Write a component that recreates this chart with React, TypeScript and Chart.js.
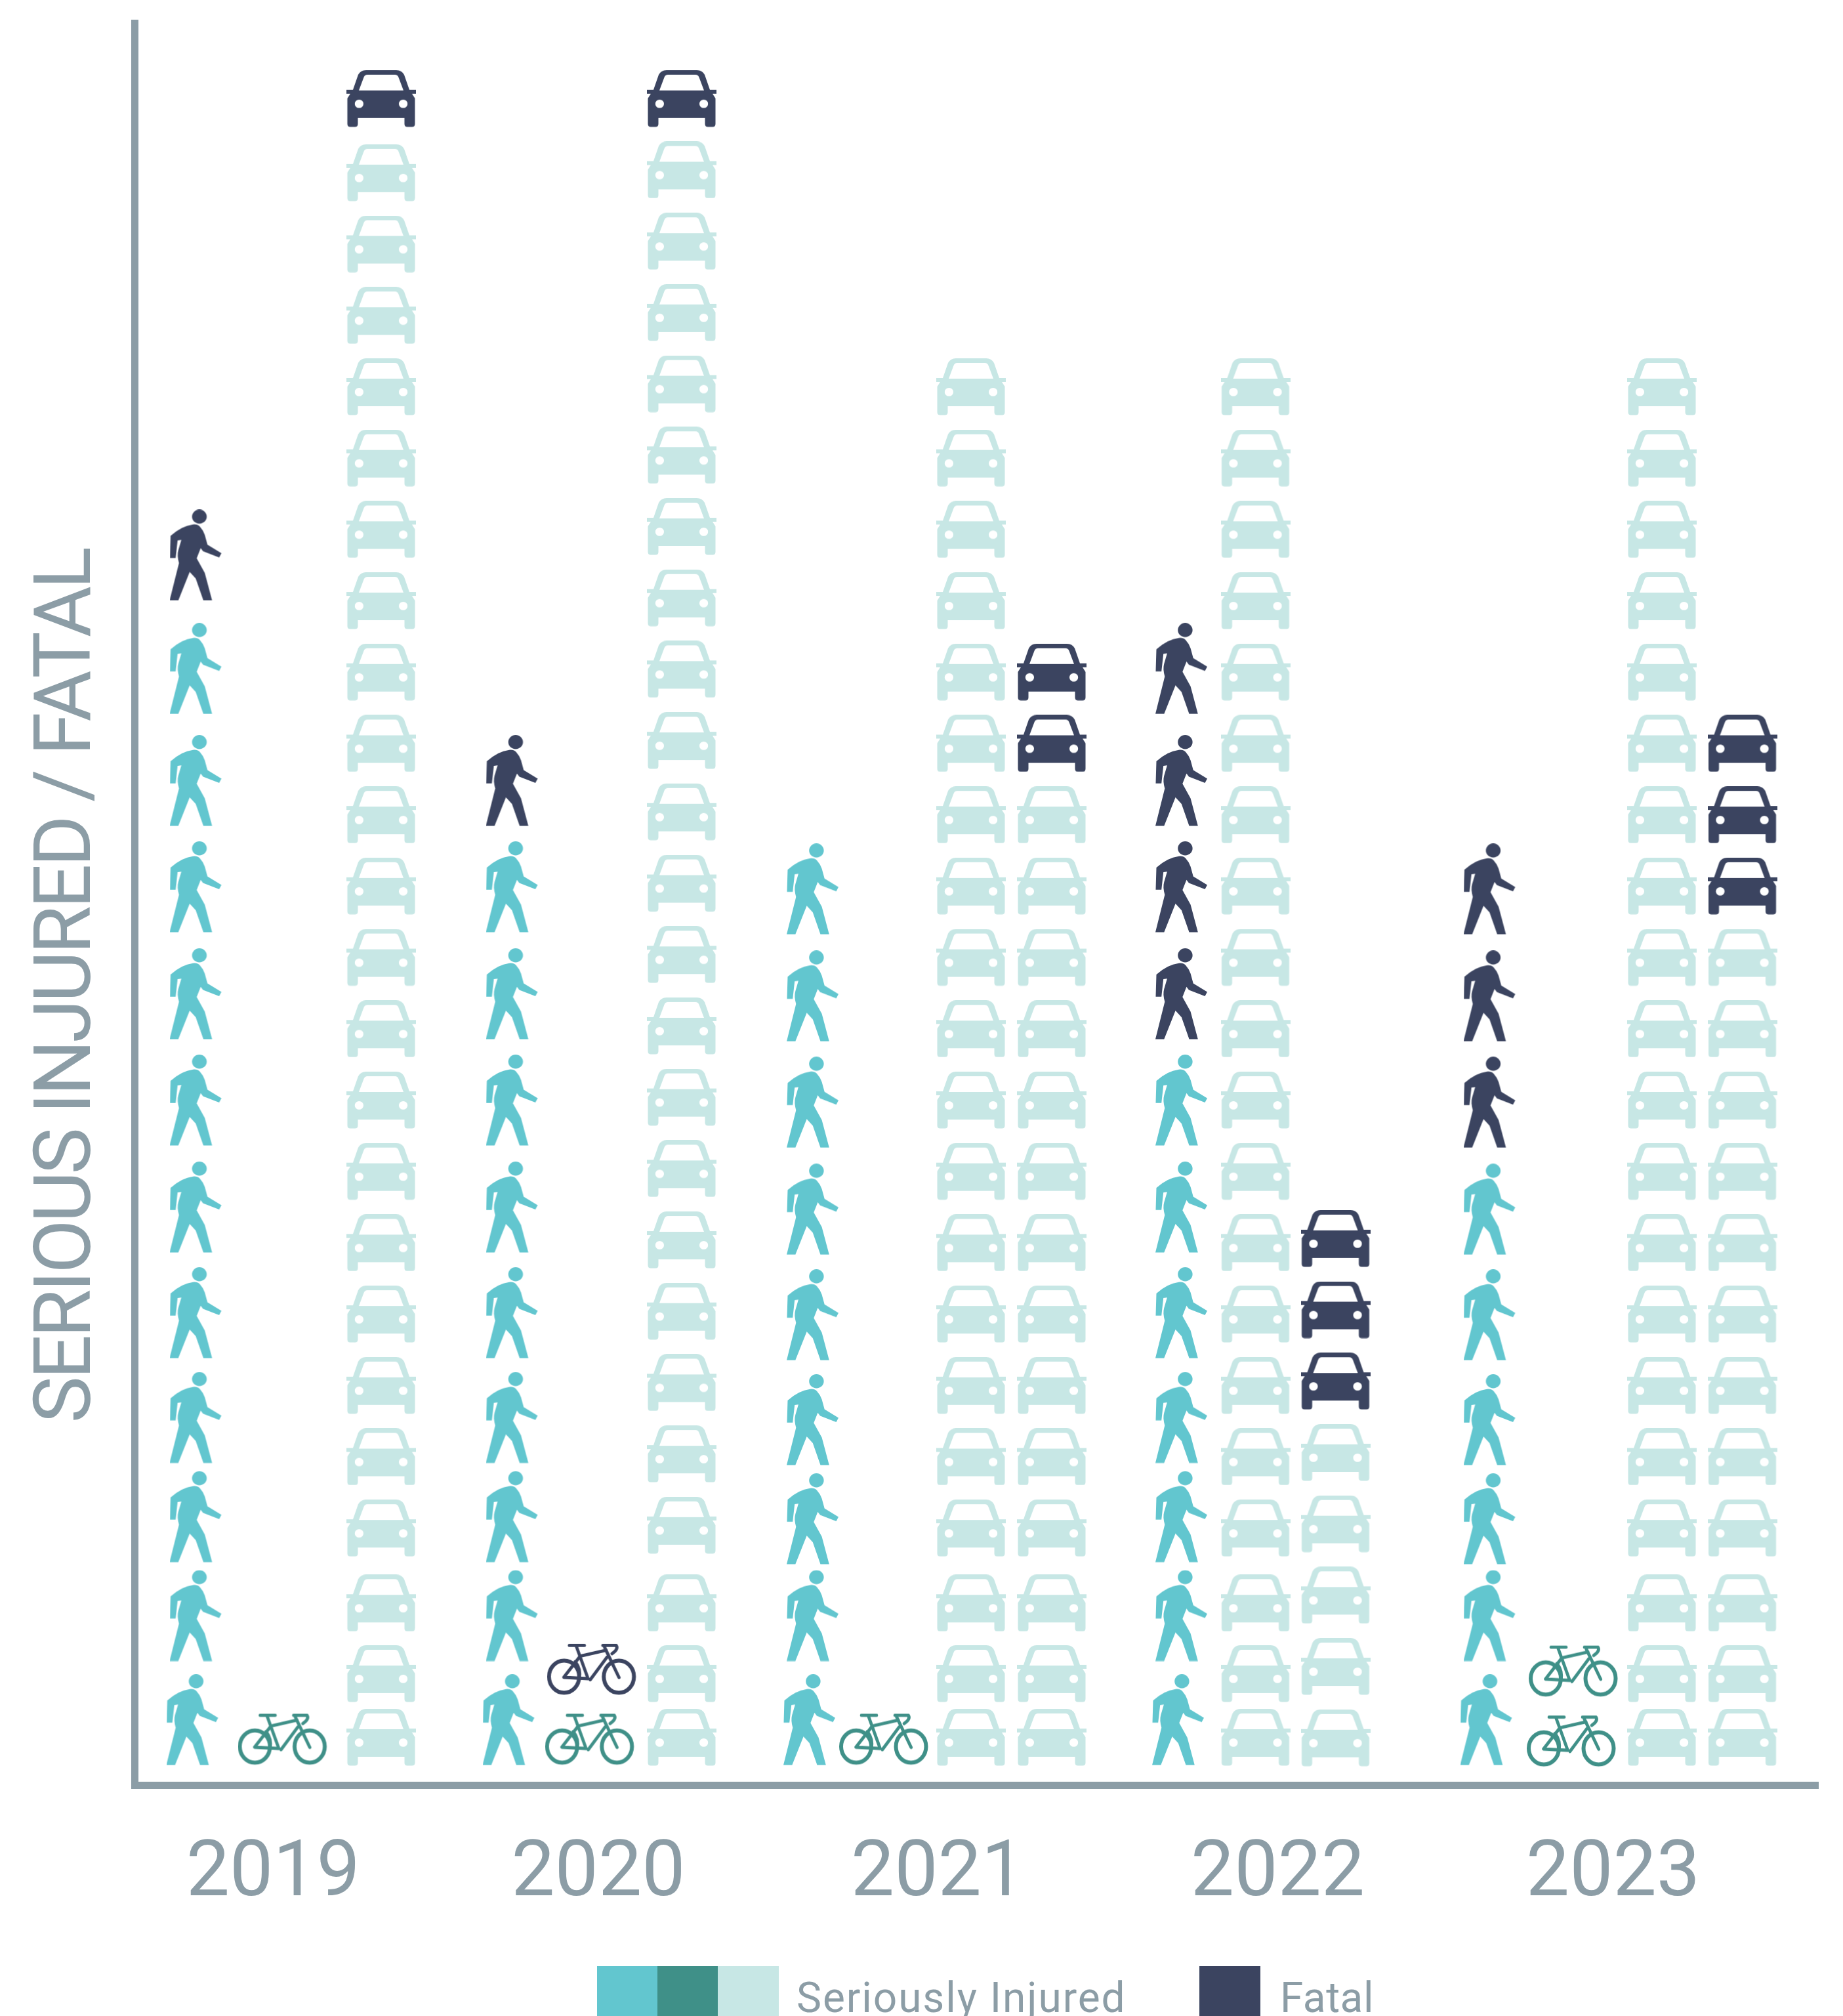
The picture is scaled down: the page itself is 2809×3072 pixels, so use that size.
import React, { useEffect, useRef } from "react";
import { Chart, registerables } from "chart.js";

Chart.register(...registerables);

// ---- counts ----
const years = ["2019", "2020", "2021", "2022", "2023"];
const pedInjured = [11, 9, 9, 7, 6];
const pedFatal = [1, 1, 0, 4, 3];
const bikeInjured = [1, 1, 1, 0, 2];
const bikeFatal = [0, 1, 0, 0, 0];
const carInjuredFirstColumn = [23, 23, 20, 20, 20];
const carFatalFirstColumn = [1, 1, 0, 0, 0];
const carInjuredSecondColumn = [0, 0, 14, 5, 12];
const carFatalSecondColumn = [0, 0, 2, 3, 3];

// ---- axis-unit layout of the pictogram columns and rows ----
const yearTicks = [2.108, 7.064, 12.24, 17.42, 22.53];
const pedColumn = [0.93, 5.75, 10.335, 15.955, 20.65];
const bikeColumn = [2.255, 6.937, 11.42, 16.5, 21.9];
const carColumnA = [3.754, 8.335, 12.745, 17.08, 23.275];
const carColumnB = [5, 9.5, 13.975, 18.3, 24.5];
const pedRows = [0.914, 2.373, 3.76, 5.15, 6.62, 8.1, 9.6, 11.09, 12.59, 14.08, 15.65, 17.24];
const pedShift = [0, 0, -0.03, 0, -0.03];
const bikeRows = [0.64, 1.62];
const bikeShift = [0, 0, 0, 0, -0.025];
const carBottomRows = [0.667, 1.56, 2.55];
const carTopRow = 23.64;
const carShiftA = [0, 0.04, 0, 0, 0];
const carEvenOffsetB = [0.6, 0.6, 0.6, 0.66, 0.6];

const GREY = "#8c9da6";
const TEAL = "#62c6cf";
const GREEN = "#3f9088";
const PALE = "#c7e7e5";
const NAVY = "#3b4460";
const FONT = "Roboto";

function sheet(w: number, h: number) {
  const c = document.createElement("canvas");
  c.width = w;
  c.height = h;
  return c;
}

function carIcon(color: string) {
  const c = sheet(106, 87);
  const g = c.getContext("2d")!;
  const p = new Path2D(
    "M30 0 L76 0 Q84 0 88 7 L96 30 L106 30 L106 36 L100 36 L104.5 43 L104.5 82 Q104.5 86.5 100 86.5 L93 86.5 Q88.5 86.5 88.5 82 L88.5 73 L17.5 73 L17.5 82 Q17.5 86.5 13 86.5 L6 86.5 Q1.5 86.5 1.5 82 L1.5 43 L6 36 L0 36 L0 30 L10 30 L18 7 Q22 0 30 0 Z " +
      "M32 7 L74 7 Q78 7 79.5 11 L87 31 L19 31 L26.5 11 Q28 7 32 7 Z"
  );
  p.moveTo(26, 51.4);
  p.ellipse(19.4, 51.4, 6.6, 6.4, 0, 0, Math.PI * 2);
  p.closePath();
  p.moveTo(93.2, 51.4);
  p.ellipse(86.6, 51.4, 6.6, 6.4, 0, 0, Math.PI * 2);
  p.closePath();
  g.fillStyle = color;
  g.fill(p, "evenodd");
  return c;
}

function pedIcon(color: string) {
  const c = sheet(80, 139);
  const g = c.getContext("2d")!;
  g.fillStyle = color;
  g.beginPath();
  g.ellipse(45.4, 10.7, 11.2, 10.7, 0, 0, Math.PI * 2);
  g.fill();
  g.fill(
    new Path2D(
      "M1.5 40 Q18 25 35.7 22.7 Q42 22 46 25.7 Q51 31 53.6 38.6 L57.7 53.6 L79 66.4 L75.5 72.9 L51 63.4 L47.4 58.7 L41.3 74.2 L53.6 96.4 L64.8 138.5 L51.5 138.5 L39.8 105 L30.6 95 L13.3 138.5 L0 138.5 L14.3 81.4 Q11 70 13.3 62 L17.9 46.3 L12.2 47 L9.2 73.7 L0.5 73.7 Z"
    )
  );
  return c;
}

function bikeIcon(color: string) {
  const c = sheet(137, 80);
  const g = c.getContext("2d")!;
  g.strokeStyle = color;
  g.lineCap = "round";
  g.lineJoin = "round";
  g.lineWidth = 6;
  g.beginPath();
  g.ellipse(26, 51, 23, 24.5, 0, 0, Math.PI * 2);
  g.moveTo(132.5, 51);
  g.ellipse(109.5, 51, 23, 24.5, 0, 0, Math.PI * 2);
  g.stroke();
  g.lineWidth = 4.8;
  g.stroke(
    new Path2D(
      "M34 3.4 L57 3.4 M44.4 4 L62.5 54 L25.5 52 L49.5 21 M52 19.3 L90.3 10.7 M65.8 55.7 L91.3 21.4 M87.8 6.4 L109.7 52.3 M85 3.4 L105.6 3.4 Q109 9 99 15.9 M43 28 Q52 40 49 53"
    )
  );
  return c;
}

function carRow(i: number, even: number, shift: number) {
  if (i === 23) return carTopRow;
  return i < carBottomRows.length && even === 0.6 ? carBottomRows[i] : i + even + shift;
}

function stack(n: number, from: number, x: (row: number) => number, y: (row: number) => number) {
  const out: { x: number; y: number }[] = [];
  for (let r = from; r < from + n; r++) out.push({ x: x(r), y: y(r) });
  return out;
}

function buildDatasets() {
  const pedI: any[] = [], pedF: any[] = [], bikeI: any[] = [], bikeF: any[] = [], carI: any[] = [], carF: any[] = [];
  years.forEach((_, k) => {
    const px = (r: number) => pedColumn[k] - (r === 0 ? 0.05 : 0);
    const py = (r: number) => pedRows[r] + (r >= 2 ? pedShift[k] : 0);
    pedI.push(...stack(pedInjured[k], 0, px, py));
    pedF.push(...stack(pedFatal[k], pedInjured[k], px, py));
    const bx = (r: number) => bikeColumn[k] + (r === 1 ? 0.03 : 0);
    const by = (r: number) => bikeRows[r] + bikeShift[k];
    bikeI.push(...stack(bikeInjured[k], 0, bx, by));
    bikeF.push(...stack(bikeFatal[k], bikeInjured[k], bx, by));
    const ay = (r: number) => carRow(r, 0.6, carShiftA[k]);
    carI.push(...stack(carInjuredFirstColumn[k], 0, () => carColumnA[k], ay));
    carF.push(...stack(carFatalFirstColumn[k], carInjuredFirstColumn[k], () => carColumnA[k], ay));
    const by2 = (r: number) => carRow(r, carEvenOffsetB[k], 0);
    carI.push(...stack(carInjuredSecondColumn[k], 0, () => carColumnB[k], by2));
    carF.push(...stack(carFatalSecondColumn[k], carInjuredSecondColumn[k], () => carColumnB[k], by2));
  });
  return [
    { label: "Pedestrian, seriously injured", data: pedI, pointStyle: pedIcon(TEAL) },
    { label: "Pedestrian, fatal", data: pedF, pointStyle: pedIcon(NAVY) },
    { label: "Cyclist, seriously injured", data: bikeI, pointStyle: bikeIcon(GREEN) },
    { label: "Cyclist, fatal", data: bikeF, pointStyle: bikeIcon(NAVY) },
    { label: "Motorist, seriously injured", data: carI, pointStyle: carIcon(PALE) },
    { label: "Motorist, fatal", data: carF, pointStyle: carIcon(NAVY) },
  ];
}

const legendPlugin = {
  id: "swatchLegend",
  afterLayout(chart: any) {
    // the axis title's narrower set width
    const block = chart.titleBlock;
    if (block && !block.__spaced) {
      const draw = block.draw.bind(block);
      block.draw = () => {
        chart.ctx.save();
        chart.ctx.letterSpacing = "-4.6px";
        draw();
        chart.ctx.restore();
      };
      block.__spaced = true;
    }
  },
  afterDraw(chart: any) {
    const { ctx } = chart;
    ctx.save();
    const swatch = (x: number, w: number, color: string) => {
      ctx.fillStyle = color;
      ctx.fillRect(x, 2996, w, 76);
    };
    swatch(910, 92, TEAL);
    swatch(1002, 92, GREEN);
    swatch(1094, 93, PALE);
    swatch(1828, 93, NAVY);
    ctx.fillStyle = GREY;
    ctx.font = `400 64px ${FONT}`;
    ctx.textBaseline = "alphabetic";
    ctx.textAlign = "left";
    ctx.letterSpacing = "1.9px";
    ctx.fillText("Seriously Injured", 1214, 3066);
    ctx.letterSpacing = "0.5px";
    ctx.fillText("Fatal", 1951, 3066);
    ctx.restore();
  },
};

export default function App() {
  const ref = useRef<HTMLCanvasElement>(null);
  useEffect(() => {
    document.body.style.margin = "0";
    const chart = new Chart(ref.current!, {
      type: "scatter",
      data: { datasets: buildDatasets() as any },
      plugins: [legendPlugin],
      options: {
        animation: false,
        responsive: false,
        devicePixelRatio: 1,
        layout: { padding: { top: 35.5, right: 38, bottom: 101.5, left: 0 } },
        plugins: {
          legend: { display: false },
          tooltip: { enabled: false },
          title: {
            display: true,
            position: "left",
            text: "SERIOUS INJURED / FATAL",
            color: GREY,
            font: { family: FONT, size: 120, weight: "400", lineHeight: 1 },
            padding: { top: 47, bottom: 0 },
          },
        },
        scales: {
          x: {
            type: "linear",
            min: 0,
            max: 25.655,
            afterBuildTicks(s: any) {
              s.ticks = yearTicks.map((value) => ({ value }));
            },
            afterFit(s: any) {
              s.height = 250.5;
            },
            grid: { display: false },
            border: { display: true, color: GREY, width: 11 },
            ticks: {
              color: GREY,
              autoSkip: false,
              maxRotation: 0,
              padding: 60,
              font: { family: FONT, size: 118, weight: "400" },
              callback: (_v: any, i: number) => years[i],
            },
          },
          y: {
            type: "linear",
            min: 0,
            max: 24.696,
            afterFit(s: any) {
              s.width = 38.5;
            },
            grid: { display: false },
            border: { display: true, color: GREY, width: 11 },
            ticks: { display: false },
          },
        },
      } as any,
    });
    return () => chart.destroy();
  }, []);
  return <canvas ref={ref} width={2809} height={3072} style={{ display: "block" }} />;
}
